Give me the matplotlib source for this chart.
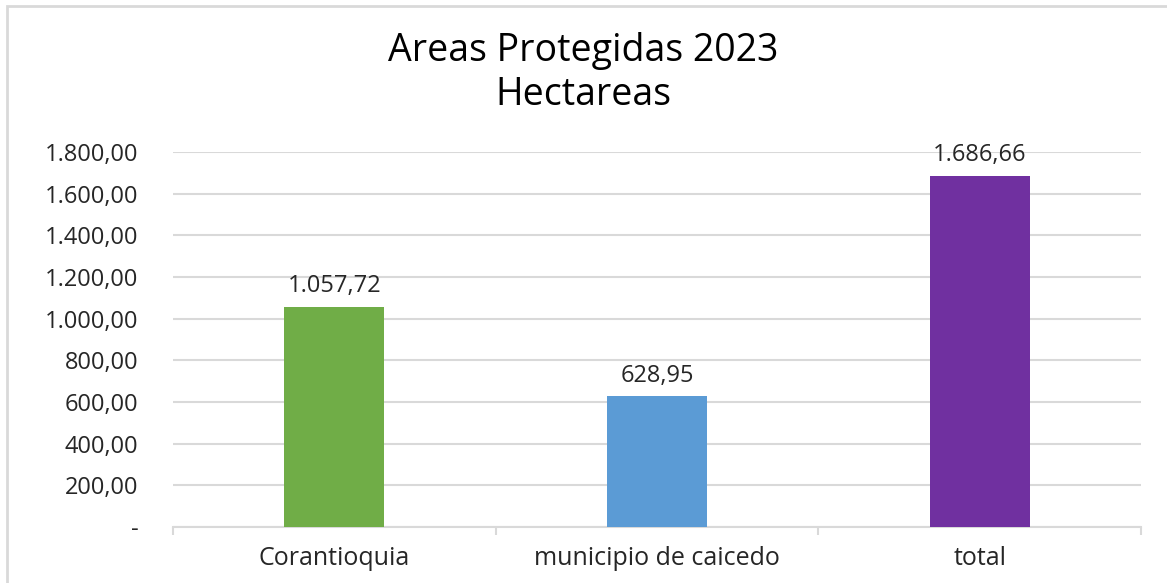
import matplotlib.pyplot as plt
import matplotlib.patches as mpatches
import numpy as np

plt.rcParams['font.family'] = ['Open Sans', 'DejaVu Sans']

categorias = ['Corantioquia', 'municipio de caicedo', 'total']
hectareas = [1057.72, 628.95, 1686.66]
etiquetas = ['1.057,72', '628,95', '1.686,66']
colores = ['#70AD47', '#5B9BD5', '#7030A0']
yticks = [0, 200, 400, 600, 800, 1000, 1200, 1400, 1600, 1800]
ytick_labels = ['-', '200,00', '400,00', '600,00', '800,00', '1.000,00',
                '1.200,00', '1.400,00', '1.600,00', '1.800,00']

fig = plt.figure(figsize=(11.67, 5.83), dpi=100)
W, H = 1167, 583
ax = fig.add_axes([173 / W, 1 - 527 / H, (1141 - 173) / W, (527 - 152) / H])

x = np.arange(len(categorias))
ax.bar(x, hectareas, width=0.31, color=colores, zorder=3)

for xi, v, lab in zip(x, hectareas, etiquetas):
    ax.annotate(lab, (xi, v), textcoords='offset points', xytext=(0, 6),
                ha='center', va='bottom', fontsize=17, color='#262626')

ax.set_xlim(-0.5, len(categorias) - 0.5)
ax.set_ylim(0, 1800)
ax.set_yticks(yticks)
ax.set_yticklabels(ytick_labels, fontsize=17, color='#262626')
ax.set_xticks(x)
ax.set_xticklabels(categorias, fontsize=18, color='#262626')
ax.tick_params(axis='y', length=0, pad=25)
ax.tick_params(axis='x', length=0, pad=14)

# marcas entre categorias, estilo Excel
ax.set_xticks(np.arange(-0.5, len(categorias)), minor=True)
ax.tick_params(axis='x', which='minor', length=6, width=1.5, color='#D9D9D9', direction='out')

ax.yaxis.grid(True, color='#D9D9D9', linewidth=1.5, zorder=0)
for s in ['top', 'right', 'left']:
    ax.spines[s].set_visible(False)
ax.spines['bottom'].set_color('#D9D9D9')
ax.spines['bottom'].set_linewidth(1.5)

fig.text(0.5, 1 - 73 / H, 'Areas Protegidas 2023\nHectareas', ha='center', va='center',
         fontsize=27, color='#000000', linespacing=1.2)

# borde del grafico
fig.add_artist(mpatches.Rectangle((7 / W, -0.05), 1.2, 1 - 6 / H + 0.05,
                                  transform=fig.transFigure, fill=False,
                                  edgecolor='#D9D9D9', linewidth=2))

plt.savefig('out.png', dpi=100)
